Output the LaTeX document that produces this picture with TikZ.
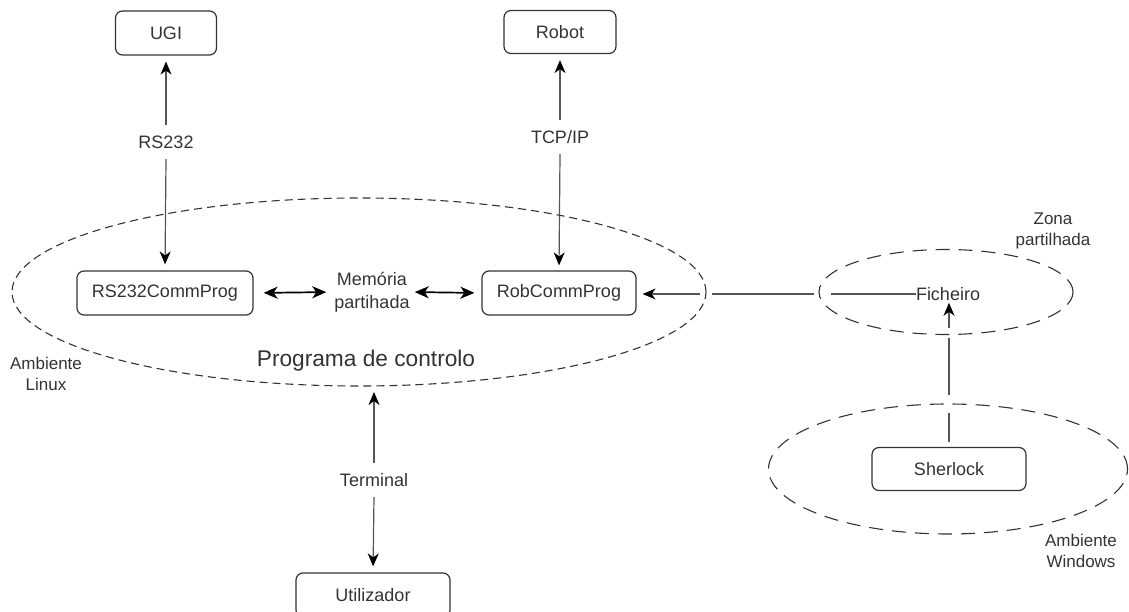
\documentclass[tikz,border=0pt]{standalone}
\usepackage{fontspec}
\setmainfont{Liberation Sans}
\usetikzlibrary{arrows.meta,shapes.geometric}
\definecolor{ink}{HTML}{333333}
\definecolor{wire}{HTML}{555555}
\begin{document}
\begin{tikzpicture}[x=1pt,y=-1pt,
  box/.style={draw=ink, line width=1.2pt, rounded corners=7pt, inner sep=0pt,
              font=\fontsize{18}{22}\selectfont, text=ink},
  lbl/.style={font=\fontsize{18}{23}\selectfont, text=ink, align=center, inner sep=0pt},
  small/.style={font=\fontsize{17}{21.5}\selectfont, text=ink, align=center, inner sep=0pt},
  edgelbl/.style={lbl, minimum height=34pt},
  conn/.style={draw=wire, line width=1.2pt},
  tip/.style={-{Stealth[length=13pt,width=11pt,inset=4pt,color=black]}},
  both/.style={{Stealth[length=14pt,width=12pt,inset=4pt]}-{Stealth[length=14pt,width=12pt,inset=4pt]}},
  zonea/.style={ellipse, draw=ink, line width=1.1pt, dash pattern=on 8pt off 5pt, inner sep=0pt},
  zoneb/.style={ellipse, draw=ink, line width=1.1pt, dash pattern=on 14pt off 9pt, inner sep=0pt}]
\useasboundingbox (0,0) rectangle (1129,612);

% boxes
\node[box, minimum width=101pt, minimum height=44pt] (ugi) at (166,33) {UGI};
\node[box, minimum width=112pt, minimum height=43pt] (robot) at (560,32) {Robot};
\node[box, minimum width=176pt, minimum height=44pt] (rs) at (165,293) {RS232CommProg};
\node[box, minimum width=154pt, minimum height=44pt] (rob) at (559,293) {RobCommProg};
\node[box, minimum width=154pt, minimum height=43pt] (sher) at (949,469) {Sherlock};
\node[box, minimum width=154pt, minimum height=44pt] (util) at (373,595) {Utilizador};

% texts
\node[lbl] (mem) at (372,292) {Memória\\partihada};
\node[lbl, font=\fontsize{22.7}{27}\selectfont] (prog) at (366,361) {Programa de controlo};
\node[small] (linux) at (46,374) {Ambiente\\Linux};
\node[lbl] (fich) at (948,294) {Ficheiro};
\node[small] (zona) at (1053,231) {Zona\\partilhada};
\node[small] (win) at (1081,551) {Ambiente\\Windows};

% edge labels
\node[edgelbl] (l232) at (166,142) {RS232};
\node[edgelbl] (ltcp) at (560,137) {TCP/IP};
\node[edgelbl] (lterm) at (374,480) {Terminal};

\coordinate (linbottom) at (374,386);

% connectors
\draw[conn, tip, shorten >=6pt] (l232.north) -- (ugi.south);
\draw[conn, tip, shorten >=6pt] (l232.south) -- (rs.north);
\draw[conn, tip, shorten >=6pt] (ltcp.north) -- (robot.south);
\draw[conn, tip, shorten >=5pt] (ltcp.south) -- (rob.north);
\draw[conn, tip, shorten >=6pt] (lterm.north) -- (linbottom);
\draw[conn, tip, shorten >=6pt] (lterm.south) -- (util.north);
\draw[conn, both, draw=black, line width=1.7pt, shorten <=10pt, shorten >=8pt] (rs.east) -- (mem.west);
\draw[conn, both, draw=black, line width=1.7pt, shorten <=5pt, shorten >=7pt] (mem.east) -- (rob.west);
\draw[conn, tip, shorten >=6pt] (fich.west) -- (fich.west -| rob.east);
\draw[conn, tip, shorten <=5pt, shorten >=2pt] (sher.north) -- (sher.north |- fich.south);

% line jumps
\fill[white] (700,288) rectangle (712,298);
\fill[white] (814,288) rectangle (831,298);
\fill[white] (943,328) rectangle (953,338);
\fill[white] (943,395) rectangle (953,413);

% zones
\node[zonea, minimum width=694pt, minimum height=188pt] (linuxzone) at (359,292) {};
\node[zoneb, minimum width=254pt, minimum height=85pt] (sharedzone) at (946,292) {};
\node[zoneb, minimum width=359pt, minimum height=130pt] (winzone) at (948,469) {};
\end{tikzpicture}
\end{document}
